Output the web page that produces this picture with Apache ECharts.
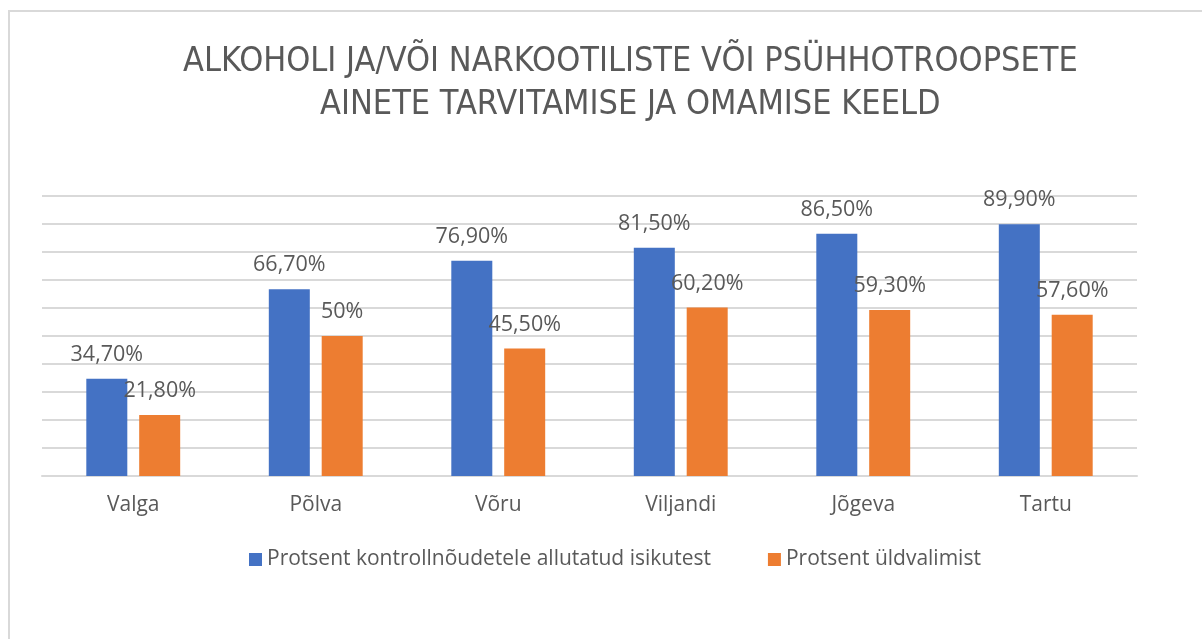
<!DOCTYPE html>
<html>
<head>
<meta charset="utf-8">
<script src="https://cdn.jsdelivr.net/npm/echarts@6/dist/echarts.min.js"></script>
<style>
  html, body { margin: 0; padding: 0; background: #fff; }
  #chart { width: 1202px; height: 639px; }
</style>
</head>
<body>
<div id="chart"></div>
<script>
var regions = ["Valga", "Põlva", "Võru", "Viljandi", "Jõgeva", "Tartu"];
var controlled = [34.7, 66.7, 76.9, 81.5, 86.5, 89.9];
var general = [21.8, 50, 45.5, 60.2, 59.3, 57.6];
var seriesNames = ["Protsent kontrollnõudetele allutatud isikutest", "Protsent üldvalimist"];
var titleLines = ["ALKOHOLI JA/VÕI NARKOOTILISTE VÕI PSÜHHOTROOPSETE", "AINETE TARVITAMISE JA OMAMISE KEELD"];

var textColor = "#595959";
var baseFont = "'Open Sans', 'Noto Sans', sans-serif";

function pct(v) {
  // Excel style: comma decimal, two decimals unless whole number
  if (v % 1 === 0) return v + "%";
  return v.toFixed(2).replace(".", ",") + "%";
}

var titleStyle = {
  color: textColor,
  fontFamily: "'DejaVu Sans Condensed', sans-serif",
  fontWeight: "normal",
  fontSize: 34
};

var myChart = echarts.init(document.getElementById("chart"));
var option = {
  backgroundColor: "#ffffff",
  animation: false,
  // one title per line so each line is centred on its own
  title: [
    { text: titleLines[0], left: 183, top: 45, padding: 0, textStyle: titleStyle },
    { text: titleLines[1], left: 320, top: 88, padding: 0, textStyle: titleStyle }
  ],
  graphic: [
    {
      type: "rect",
      shape: { x: 9, y: 11, width: 1400, height: 800 },
      style: { fill: "none", stroke: "#d9d9d9", lineWidth: 2 },
      silent: true
    }
  ],
  legend: {
    left: 244,
    top: 544,
    itemWidth: 13,
    itemHeight: 13,
    itemGap: 57,
    icon: "rect",
    textStyle: { color: textColor, fontSize: 21, fontFamily: baseFont },
    data: seriesNames
  },
  grid: {
    left: 42,
    right: 65,
    top: 196,
    bottom: 163
  },
  xAxis: {
    type: "category",
    data: regions,
    axisTick: { show: false },
    axisLine: { lineStyle: { color: "#d9d9d9", width: 2 } },
    axisLabel: {
      color: textColor,
      fontSize: 21,
      fontFamily: baseFont,
      margin: 19
    }
  },
  yAxis: {
    type: "value",
    min: 0,
    max: 100,
    interval: 10,
    axisLabel: { show: false },
    axisLine: { show: false },
    axisTick: { show: false },
    splitLine: { lineStyle: { color: "#d9d9d9", width: 2 } }
  },
  series: [
    {
      name: seriesNames[0],
      type: "bar",
      data: controlled,
      barWidth: 41,
      barGap: "29%",
      itemStyle: { color: "#4472C4" },
      label: {
        show: true,
        position: "top",
        distance: 13,
        color: textColor,
        fontSize: 21.5,
        fontFamily: baseFont,
        formatter: function (p) { return pct(p.value); }
      }
    },
    {
      name: seriesNames[1],
      type: "bar",
      data: general,
      barWidth: 41,
      itemStyle: { color: "#ED7D31" },
      label: {
        show: true,
        position: "top",
        distance: 13,
        color: textColor,
        fontSize: 21.5,
        fontFamily: baseFont,
        formatter: function (p) { return pct(p.value); }
      }
    }
  ]
};
myChart.setOption(option);
</script>
</body>
</html>
